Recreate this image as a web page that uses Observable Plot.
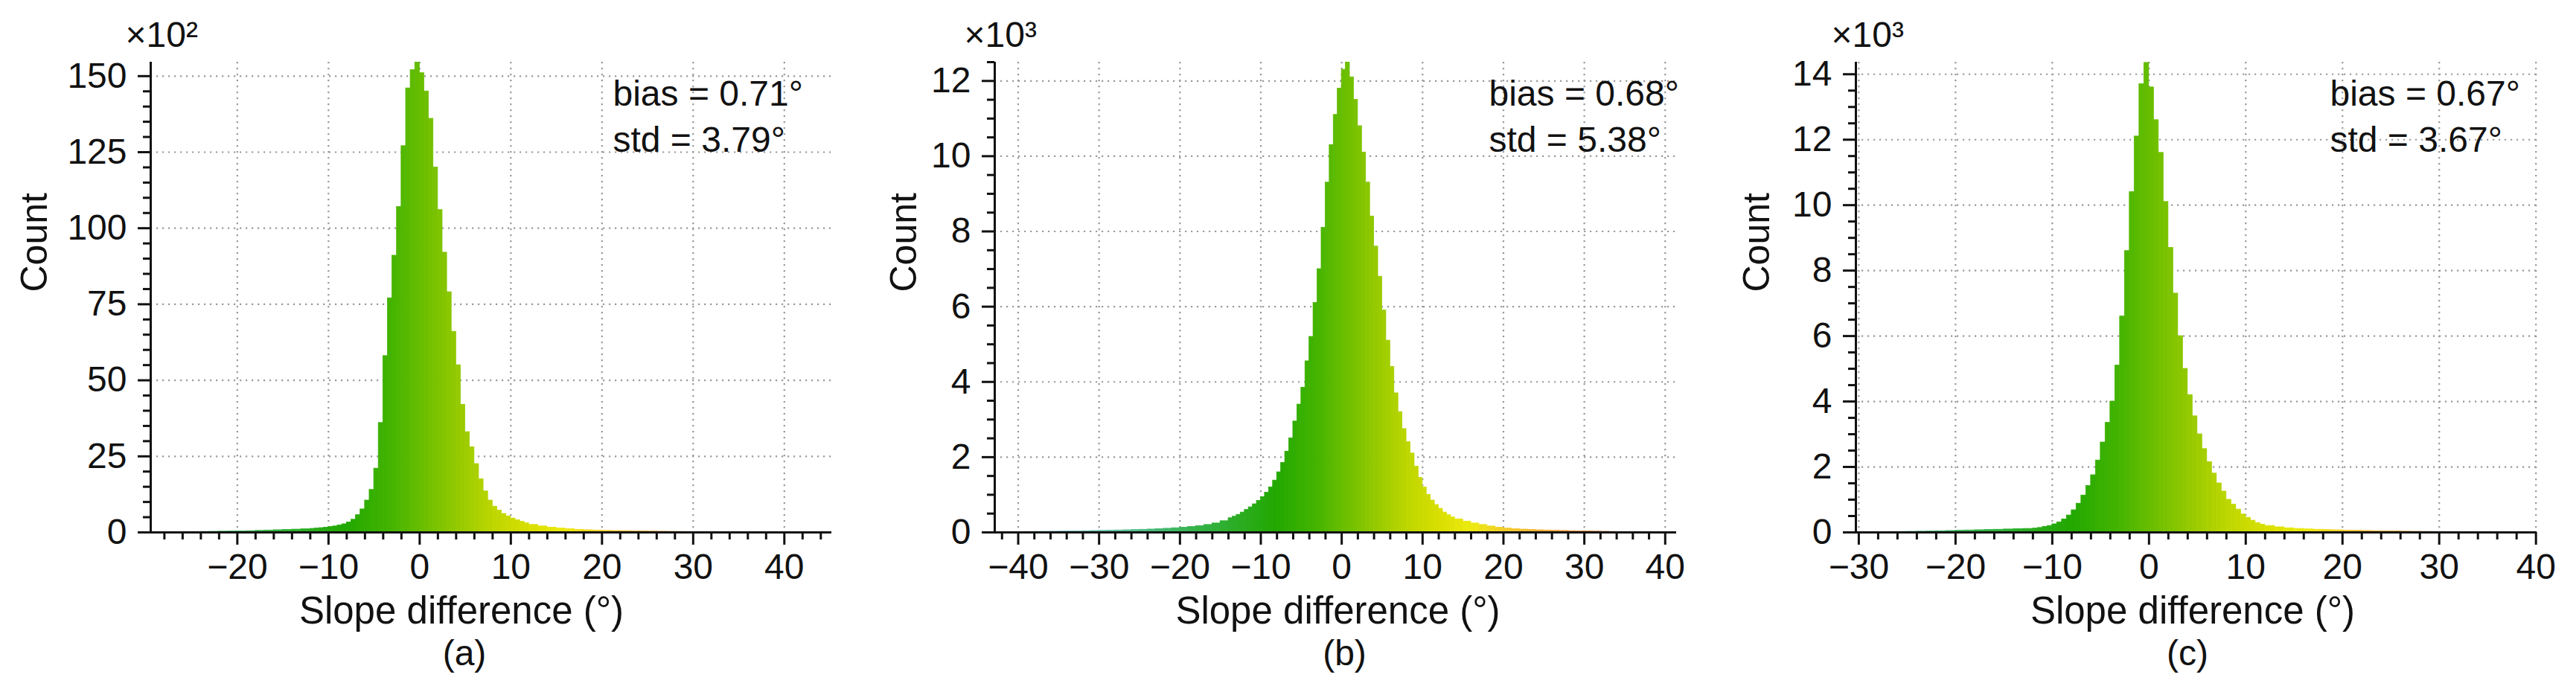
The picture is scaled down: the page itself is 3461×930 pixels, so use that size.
<!DOCTYPE html>
<html>
<head>
<meta charset="utf-8">
<script src="https://cdn.jsdelivr.net/npm/d3@7"></script>
<script src="https://cdn.jsdelivr.net/npm/@observablehq/plot@0.6"></script>
<style>
html, body { margin: 0; padding: 0; background: #fff; }
#fig { position: relative; width: 3461px; height: 930px; background: #fff; overflow: hidden; }
.panel { position: absolute; top: 0; }
</style>
</head>
<body>
<div id="fig"></div>
<script>
// ---------- Panel (a): counts in units of 10^2 ----------
const aSegEdges = [-30, -12, 12, 45];   // segment boundaries (°)
const aSegSteps = [1, 0.5, 1];          // bin width in each segment (°)
const aCountsLeft = [0.05,0.05,0.08,0.1,0.12,0.15,0.2,0.25,0.3,0.35,0.4,0.45,0.55,0.65,0.75,0.85,0.95,1.05];
const aCountsCore = [1.2,1.3,1.45,1.6,1.8,2.0,2.3,2.7,3.3,4.2,5.7,7.6,10.5,14,21,36,58,77,91,107,127,146,152,155,
                     151,145,136,120,106,92,79,66,55,42,33,28,22.5,17.5,13.5,10.5,8.5,7.2,6.1,5.3,4.6,4.0,3.5,3.0];
const aCountsRight = [2.5,2.0,1.6,1.3,1.1,0.9,0.75,0.65,0.55,0.5,0.45,0.4,0.35,0.3,0.27,0.24,0.2,0.17,0.15,0.12,0.1,0.08,0.06,0.05,0.04,0.03,0.02,0.02,0.01,0.01,0.01,0.01,0.01];
const aXTicks = [-20, -10, 0, 10, 20, 30, 40];
const aYTicks = [0, 25, 50, 75, 100, 125, 150];
const aStats = ["bias = 0.71°", "std = 3.79°"];

// ---------- Panel (b): counts in units of 10^3 ----------
const bSegEdges = [-43, -14, 14, 42];
const bSegSteps = [1, 0.5, 1];
const bCountsLeft = [0.005,0.008,0.01,0.012,0.015,0.018,0.02,0.023,0.026,0.03,0.033,0.036,0.04,0.045,0.05,0.055,0.06,0.066,0.073,0.08,0.09,0.1,0.115,0.13,0.15,0.17,0.2,0.24,0.3];
const bCountsCore = [0.38,0.42,0.47,0.53,0.6,0.67,0.75,0.84,0.94,1.06,1.2,1.38,1.6,1.85,2.15,2.5,2.95,3.4,3.85,4.55,5.2,6.1,7.0,8.1,9.3,10.3,11.1,11.8,
                     12.3,12.5,12.1,11.5,10.8,10.1,9.3,8.4,7.6,6.8,5.9,5.1,4.4,3.7,3.2,2.75,2.4,2.1,1.75,1.45,1.2,1.0,0.85,0.73,0.63,0.53,0.46,0.4];
const bCountsRight = [0.35,0.29,0.24,0.2,0.16,0.13,0.105,0.09,0.078,0.068,0.06,0.053,0.047,0.042,0.037,0.032,0.028,0.024,0.02,0.016,0.013,0.01,0.008,0.006,0.005,0.004,0.003,0.002];
const bXTicks = [-40, -30, -20, -10, 0, 10, 20, 30, 40];
const bYTicks = [0, 2, 4, 6, 8, 10, 12];
const bStats = ["bias = 0.68°", "std = 5.38°"];

// ---------- Panel (c): counts in units of 10^3 ----------
const cSegEdges = [-31, -12, 12, 41];
const cSegSteps = [1, 0.5, 1];
const cCountsLeft = [0.005,0.008,0.01,0.012,0.015,0.018,0.022,0.027,0.033,0.04,0.047,0.055,0.063,0.07,0.077,0.085,0.093,0.1,0.11];
const cCountsCore = [0.12,0.14,0.17,0.2,0.25,0.31,0.4,0.52,0.68,0.88,1.13,1.42,1.75,2.2,2.75,3.35,4.0,5.1,6.6,8.6,10.4,12.1,13.7,14.35,
                     13.6,12.6,11.6,10.1,8.7,7.3,6.0,5.0,4.2,3.55,3.0,2.55,2.15,1.8,1.5,1.25,1.0,0.85,0.7,0.55,0.45,0.36,0.29,0.24];
const cCountsRight = [0.2,0.16,0.13,0.11,0.095,0.085,0.075,0.068,0.06,0.053,0.047,0.041,0.036,0.031,0.027,0.023,0.019,0.015,0.012,0.009,0.007,0.005,0.004,0.003,0.002,0.001,0.001,0.001,0.001];
const cXTicks = [-30, -20, -10, 0, 10, 20, 30, 40];
const cYTicks = [0, 2, 4, 6, 8, 10, 12, 14];
const cStats = ["bias = 0.67°", "std = 3.67°"];

const xLabel = "Slope difference (°)";
const yLabel = "Count";

// colour ramp along the slope-difference axis
const colorStops = [-40, -28, -18, -8, -3, 0, 4, 8, 12, 16, 21, 28, 40];
const colorRange = ["#9ccbee", "#5cc0a0", "#34b24a", "#22a800", "#44b400", "#66bd00", "#92c900", "#bcd600", "#d8de00", "#ecea10", "#f2c830", "#f29a40", "#ee6a40"];
const ramp = d3.scaleLinear().domain(colorStops).range(colorRange).clamp(true);

function makeBins(edges, steps, countLists) {
  const out = [];
  countLists.forEach((counts, s) => {
    counts.forEach((c, j) => {
      const x1 = edges[s] + j * steps[s];
      out.push({x1, x2: x1 + steps[s], count: c});
    });
  });
  return out;
}

const FONT = "'Liberation Sans', Arial, Helvetica, sans-serif";

function panel(o) {
  const bins = makeBins(o.edges, o.steps, o.counts);
  const xMinor = d3.range(Math.ceil(o.xDomain[0] / 2) * 2, o.xDomain[1] + 1e-9, 2).filter(v => !o.xTicks.includes(v));
  const yMinor = d3.range(0, o.yDomain[1] + 1e-9, o.yMinorStep).filter(v => !o.yTicks.some(t => Math.abs(t - v) < 1e-9));
  const chart = Plot.plot({
    width: o.width,
    height: 930,
    marginLeft: o.marginLeft,
    marginRight: o.marginRight,
    marginTop: 83,
    marginBottom: 215,
    style: {fontFamily: FONT, fontSize: "48px", color: "#111", background: "#fff", overflow: "visible"},
    x: {domain: o.xDomain},
    y: {domain: o.yDomain},
    marks: [
      Plot.gridY(o.yTicks, {stroke: "#9a9a9a", strokeOpacity: 1, strokeWidth: 2.2, strokeDasharray: "2.2,5.8"}),
      Plot.gridX(o.xTicks, {stroke: "#9a9a9a", strokeOpacity: 1, strokeWidth: 2.2, strokeDasharray: "2.2,5.8"}),
      Plot.rectY(bins, {x1: "x1", x2: "x2", y: "count", inset: 0, clip: true,
        fill: d => ramp((d.x1 + d.x2) / 2), stroke: d => ramp((d.x1 + d.x2) / 2), strokeWidth: 0.8}),
      Plot.axisX(xMinor, {tickSize: 10, strokeWidth: 3, fill: "none", label: null}),
      Plot.axisX(o.xTicks, {tickSize: 17, tickPadding: 11, strokeWidth: 3, fontSize: 48, label: null, tickFormat: d => (d < 0 ? "\u2212" + Math.abs(d) : String(d))}),
      Plot.axisY(yMinor, {tickSize: 10, strokeWidth: 3, fill: "none", label: null}),
      Plot.axisY(o.yTicks, {tickSize: 17, tickPadding: 15, strokeWidth: 3, fontSize: 48, label: null, tickFormat: d => String(d)}),
      Plot.ruleY([0], {strokeWidth: 3}),
      Plot.ruleX([o.xDomain[0]], {strokeWidth: 3}),
      Plot.text([o.mult], {text: d => d, frameAnchor: "top-left", textAnchor: "start", lineAnchor: "bottom", dx: o.multDx, dy: -21, fontSize: 48}),
      Plot.text([o.stats.join("\n")], {text: d => d, frameAnchor: "top-left", textAnchor: "start", lineAnchor: "top", dx: o.statsDx, dy: 15, lineHeight: 1.29, fontSize: 48}),
      Plot.text([yLabel], {text: d => d, frameAnchor: "left", rotate: -90, dx: o.countDx, dy: -7, fontSize: 50}),
      Plot.text([xLabel], {text: d => d, frameAnchor: "bottom", lineAnchor: "bottom", dx: o.labelDx, dy: 122, fontSize: 51}),
      Plot.text([o.tag], {text: d => d, frameAnchor: "bottom", lineAnchor: "bottom", dx: o.tagDx, dy: 178, fontSize: 48})
    ]
  });
  const div = document.createElement("div");
  div.className = "panel";
  div.style.left = o.left + "px";
  div.appendChild(chart);
  document.getElementById("fig").appendChild(div);
}

panel({left: 0, width: 1150, marginLeft: 202, marginRight: 33,
  xDomain: [-29.5, 45.2], yDomain: [0, 154.6], edges: aSegEdges, steps: aSegSteps,
  counts: [aCountsLeft, aCountsCore, aCountsRight], xTicks: aXTicks, yTicks: aYTicks, yMinorStep: 5,
  mult: "×10²", multDx: -34, stats: aStats, statsDx: 621, countDx: -156, labelDx: -40, tag: "(a)", tagDx: -36});

panel({left: 1150, width: 1150, marginLeft: 186, marginRight: 48,
  xDomain: [-42.9, 41.4], yDomain: [0, 12.5], edges: bSegEdges, steps: bSegSteps,
  counts: [bCountsLeft, bCountsCore, bCountsRight], xTicks: bXTicks, yTicks: bYTicks, yMinorStep: 0.5,
  mult: "×10³", multDx: -41, stats: bStats, statsDx: 664, countDx: -122, labelDx: 3, tag: "(b)", tagDx: 12});

panel({left: 2300, width: 1161, marginLeft: 193, marginRight: 53,
  xDomain: [-30.3, 40.1], yDomain: [0, 14.37], edges: cSegEdges, steps: cSegSteps,
  counts: [cCountsLeft, cCountsCore, cCountsRight], xTicks: cXTicks, yTicks: cYTicks, yMinorStep: 0.5,
  mult: "×10³", multDx: -33, stats: cStats, statsDx: 637, countDx: -133, labelDx: -5, tag: "(c)", tagDx: -12});
</script>
</body>
</html>
